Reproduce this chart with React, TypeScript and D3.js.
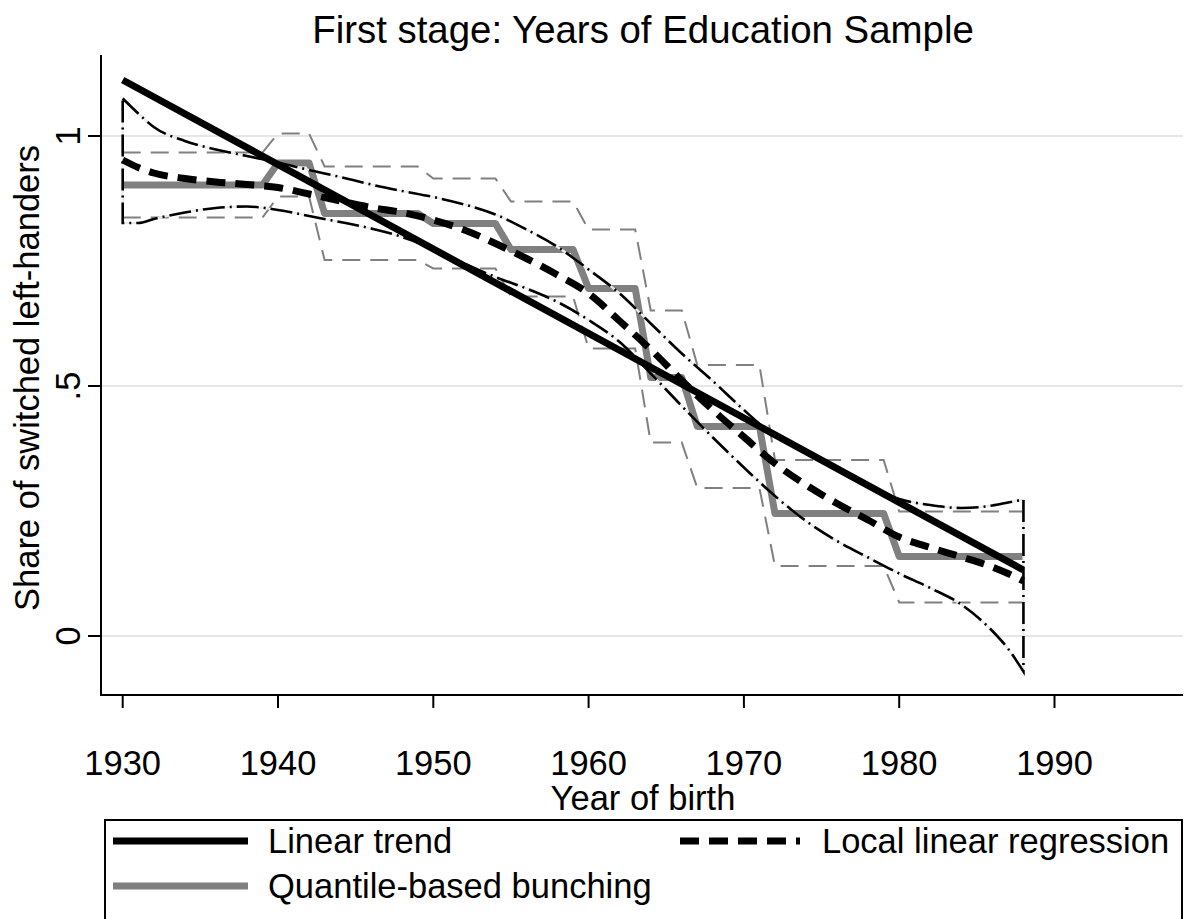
import React from 'react';
import * as d3 from 'd3';

const W = 1188;
const H = 919;

const titleText = 'First stage: Years of Education Sample';
const xTitle = 'Year of birth';
const yTitle = 'Share of switched left-handers';
const xTicks = [1930, 1940, 1950, 1960, 1970, 1980, 1990];
const yTicks = [0, 0.5, 1];
const yTickLabels = ['0', '.5', '1'];
const legendLabels = ['Linear trend', 'Local linear regression', 'Quantile-based bunching'];

// Linear trend
const linearYears = [1930, 1988];
const linearValues = [1.112, 0.132];

// Quantile-based bunching (bins of birth years)
const binStart = [1930, 1940, 1943, 1950, 1955, 1960, 1964, 1967, 1972, 1980];
const binEnd = [1939, 1942, 1949, 1954, 1959, 1963, 1966, 1971, 1979, 1988];
const binValue = [0.902, 0.946, 0.845, 0.825, 0.773, 0.695, 0.517, 0.419, 0.245, 0.159];
const binUpper = [0.967, 1.005, 0.939, 0.915, 0.869, 0.813, 0.651, 0.542, 0.352, 0.249];
const binLower = [0.837, 0.879, 0.752, 0.735, 0.679, 0.575, 0.387, 0.296, 0.14, 0.067];

// Local linear regression and its confidence band
const llrYears = [1930, 1931, 1932, 1934, 1936, 1938, 1940, 1942, 1944, 1946, 1948, 1950, 1952, 1954, 1956, 1958, 1960, 1962, 1964, 1966, 1968, 1970, 1972, 1974, 1976, 1978, 1980, 1982, 1984, 1986, 1987, 1988];
const llrValues = [0.952, 0.937, 0.926, 0.915, 0.908, 0.903, 0.897, 0.884, 0.87, 0.857, 0.847, 0.832, 0.812, 0.785, 0.755, 0.722, 0.685, 0.63, 0.573, 0.511, 0.452, 0.398, 0.345, 0.302, 0.265, 0.232, 0.198, 0.177, 0.158, 0.138, 0.125, 0.11];
const ciUpper = [1.075, 1.045, 1.018, 0.99, 0.973, 0.96, 0.947, 0.932, 0.918, 0.903, 0.89, 0.878, 0.863, 0.843, 0.813, 0.778, 0.733, 0.685, 0.625, 0.565, 0.51, 0.452, 0.4, 0.366, 0.333, 0.302, 0.274, 0.262, 0.256, 0.261, 0.267, 0.273];
const ciLower = [0.826, 0.826, 0.834, 0.847, 0.856, 0.859, 0.852, 0.84, 0.828, 0.815, 0.798, 0.775, 0.745, 0.718, 0.695, 0.668, 0.632, 0.588, 0.525, 0.46, 0.397, 0.337, 0.28, 0.23, 0.19, 0.157, 0.125, 0.096, 0.063, 0.01, -0.025, -0.071];

const FONT = '"Liberation Sans", Arial, Helvetica, sans-serif';

export default function App() {
  const x = d3.scaleLinear().domain([1930, 1990]).range([122.7, 1054.5]);
  const y = d3.scaleLinear().domain([0, 1]).range([636, 136]);

  const axisLeft = 101;
  const axisBottom = 695;
  const axisRight = 1183;
  const axisTop = 55;

  type P = [number, number];
  const line = d3.line<P>().x(d => x(d[0])).y(d => y(d[1]));
  const smooth = d3.line<P>().x(d => x(d[0])).y(d => y(d[1])).curve(d3.curveMonotoneX);

  const stepPts = (vals: number[]): P[] => {
    const pts: P[] = [];
    binStart.forEach((s, i) => {
      for (let yr = s; yr <= binEnd[i]; yr++) pts.push([yr, vals[i]]);
    });
    return pts;
  };

  const linearPts: P[] = linearYears.map((yr, i) => [yr, linearValues[i]]);
  const llrPts: P[] = llrYears.map((yr, i) => [yr, llrValues[i]]);
  const bandIdx = llrYears.map((_, i) => i);
  const band = d3
    .area<number>()
    .x(i => x(llrYears[i]))
    .y0(i => y(ciLower[i]))
    .y1(i => y(ciUpper[i]))
    .curve(d3.curveMonotoneX)(bandIdx) as string;

  const gray = '#808080';

  return (
    <svg width={W} height={H} style={{ position: 'absolute', left: 0, top: 0, background: '#fff' }} fontFamily={FONT}>
      <rect x={0} y={0} width={W} height={H} fill="#fff" />
      {/* gridlines */}
      {yTicks.map(t => (
        <line key={'g' + t} x1={axisLeft + 1} x2={axisRight} y1={y(t)} y2={y(t)} stroke="#e6e6e6" strokeWidth={2} />
      ))}

      {/* bunching CI */}
      <path d={line(stepPts(binUpper)) as string} fill="none" stroke={gray} strokeWidth={2} strokeDasharray="18 10" />
      <path d={line(stepPts(binLower)) as string} fill="none" stroke={gray} strokeWidth={2} strokeDasharray="18 10" />
      {/* bunching */}
      <path d={line(stepPts(binValue)) as string} fill="none" stroke={gray} strokeWidth={7} strokeLinejoin="round" />

      {/* LLR confidence band */}
      <path d={band} fill="none" stroke="#ececec" strokeWidth={2.2} />
      <path d={band} fill="none" stroke="#000" strokeWidth={2.6} strokeDasharray="22 5 2 5" />

      {/* linear trend */}
      <path d={line(linearPts) as string} fill="none" stroke="#000" strokeWidth={7} />

      {/* local linear regression */}
      <path d={smooth(llrPts) as string} fill="none" stroke="#000" strokeWidth={7} strokeDasharray="19 10" />

      {/* axes */}
      <line x1={axisLeft} x2={axisLeft} y1={axisTop} y2={axisBottom + 1} stroke="#000" strokeWidth={2} />
      <line x1={axisLeft - 1} x2={axisRight} y1={axisBottom} y2={axisBottom} stroke="#000" strokeWidth={2} />
      {xTicks.map(t => (
        <g key={'x' + t}>
          <line x1={x(t)} x2={x(t)} y1={axisBottom} y2={axisBottom + 13} stroke="#000" strokeWidth={2} />
          <text x={x(t)} y={775} fontSize={34.5} textAnchor="middle" fill="#000">
            {t}
          </text>
        </g>
      ))}
      {yTicks.map((t, i) => (
        <g key={'y' + t}>
          <line x1={axisLeft - 13} x2={axisLeft} y1={y(t)} y2={y(t)} stroke="#000" strokeWidth={2} />
          <text transform={`translate(80,${y(t)}) rotate(-90)`} fontSize={34.5} textAnchor="middle" fill="#000">
            {yTickLabels[i]}
          </text>
        </g>
      ))}

      {/* titles */}
      <text x={643} y={43} fontSize={38.4} textAnchor="middle" fill="#000">
        {titleText}
      </text>
      <text x={643} y={810} fontSize={34.5} textAnchor="middle" fill="#000">
        {xTitle}
      </text>
      <text transform={`translate(39,378) rotate(-90)`} fontSize={34.5} textAnchor="middle" fill="#000">
        {yTitle}
      </text>

      {/* legend */}
      <rect x={105} y={820} width={1077} height={200} fill="none" stroke="#000" strokeWidth={2} />
      <line x1={113} x2={248} y1={841} y2={841} stroke="#000" strokeWidth={7} />
      <text x={268} y={853} fontSize={34.5} fill="#000">
        {legendLabels[0]}
      </text>
      <line x1={680} x2={800} y1={841} y2={841} stroke="#000" strokeWidth={7} strokeDasharray="19 10" />
      <text x={822} y={853} fontSize={34.5} fill="#000">
        {legendLabels[1]}
      </text>
      <line x1={113} x2={248} y1={886} y2={886} stroke={gray} strokeWidth={7} />
      <text x={268} y={898} fontSize={34.5} fill="#000">
        {legendLabels[2]}
      </text>
    </svg>
  );
}
